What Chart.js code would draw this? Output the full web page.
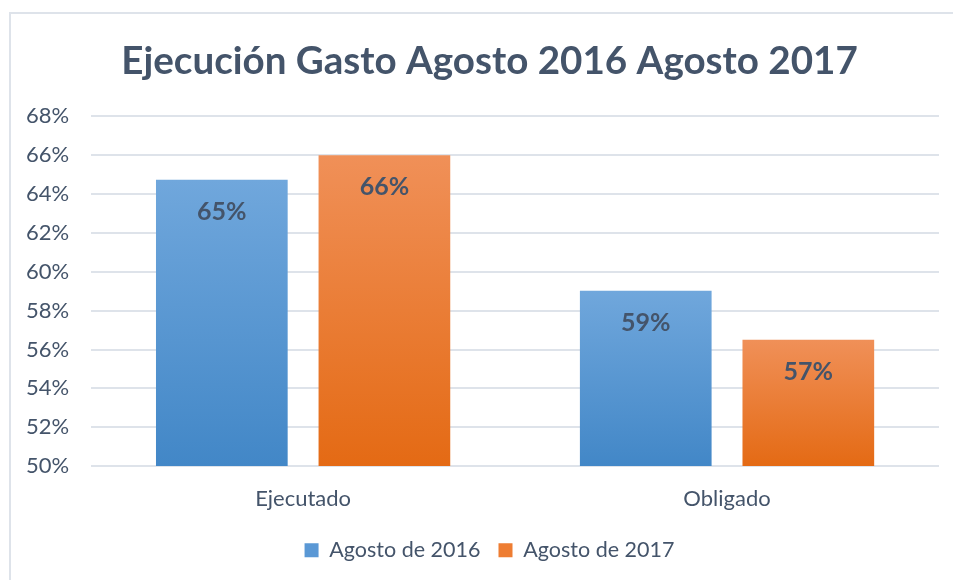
<!DOCTYPE html>
<html>
<head>
<meta charset="utf-8">
<script src="https://cdn.jsdelivr.net/npm/chart.js@4"></script>
<style>
  html, body { margin: 0; padding: 0; background: #fff; }
  #wrap { position: relative; width: 953px; height: 580px; }
  #frame {
    position: absolute; left: 9px; top: 12px; right: 0; bottom: 0;
    border-left: 2px solid #DEE3EA; border-top: 2px solid #DEE3EA;
  }
  canvas { position: absolute; left: 0; top: 0; }
</style>
</head>
<body>
<div id="wrap">
  <div id="frame"></div>
  <canvas id="gastoChart" width="953" height="580"></canvas>
</div>
<script>
const categories = ['Ejecutado', 'Obligado'];
const seriesNames = ['Agosto de 2016', 'Agosto de 2017'];
const agosto2016 = [64.73, 59.02];
const agosto2017 = [66.0, 56.5];
const yTicks = [50, 52, 54, 56, 58, 60, 62, 64, 66, 68];

const textColor = '#44546A';
const fontFamily = 'Lato, "Open Sans", sans-serif';

// vertical gradient per bar, light at the top, darker at the base
function barGradient(top, bottom) {
    return function(ctx) {
        const chart = ctx.chart;
        if (!chart.chartArea || ctx.raw === undefined) return bottom;
        const yScale = chart.scales.y;
        const y0 = yScale.getPixelForValue(ctx.raw);
        const y1 = yScale.getPixelForValue(yScale.min);
        const g = chart.ctx.createLinearGradient(0, y0, 0, y1);
        g.addColorStop(0, top);
        g.addColorStop(1, bottom);
        return g;
    };
}

// value labels drawn inside the bars, near the top
const barLabels = {
    id: 'barLabels',
    afterDatasetsDraw(chart) {
        const c = chart.ctx;
        c.save();
        c.font = 'bold 25px ' + fontFamily;
        c.fillStyle = textColor;
        c.textAlign = 'center';
        c.textBaseline = 'middle';
        chart.data.datasets.forEach((ds, i) => {
            chart.getDatasetMeta(i).data.forEach((bar, j) => {
                c.fillText(Math.round(ds.data[j]) + '%', bar.x, bar.y + 32);
            });
        });
        c.restore();
    }
};

// nudge title and legend a little to the right (and the legend up)
const shiftBlocks = {
    id: 'shiftBlocks',
    afterLayout(chart) {
        const t = chart.titleBlock;
        if (t) { t.left += 18; t.right += 18; }
        const l = chart.legend;
        if (l) { l.left += 18; l.right += 18; l.top -= 3; l.bottom -= 3; }
    }
};

const ctx = document.getElementById('gastoChart').getContext('2d');
new Chart(ctx, {
    type: 'bar',
    data: {
        labels: categories,
        datasets: [{
            label: seriesNames[0],
            data: agosto2016,
            backgroundColor: barGradient('#70A7DC', '#4287C7')
        }, {
            label: seriesNames[1],
            data: agosto2017,
            backgroundColor: barGradient('#F09058', '#E46A14')
        }]
    },
    options: {
        responsive: false,
        animation: false,
        categoryPercentage: 0.767,
        barPercentage: 0.81,
        layout: { padding: { left: 4, right: 14, top: 32, bottom: 6 } },
        plugins: {
            title: {
                display: true,
                text: 'Ejecución Gasto Agosto 2016 Agosto 2017',
                color: textColor,
                font: { family: fontFamily, size: 38.6, weight: 'bold' },
                padding: { top: 6, bottom: 32 }
            },
            legend: {
                position: 'bottom',
                labels: {
                    color: textColor,
                    font: { family: fontFamily, size: 21.5 },
                    boxWidth: 14,
                    boxHeight: 14,
                    padding: 18,
                    generateLabels(chart) {
                        return chart.data.datasets.map((ds, i) => ({
                            text: ds.label,
                            fillStyle: i === 0 ? '#5A98D5' : '#EE7D32',
                            strokeStyle: 'transparent',
                            lineWidth: 0,
                            fontColor: textColor,
                            datasetIndex: i
                        }));
                    }
                }
            },
            tooltip: { enabled: false }
        },
        scales: {
            x: {
                grid: { display: false },
                border: { display: false },
                ticks: {
                    color: textColor,
                    font: { family: fontFamily, size: 22 },
                    padding: 12
                }
            },
            y: {
                min: 50,
                max: 68,
                afterBuildTicks(axis) {
                    axis.ticks = yTicks.map(v => ({ value: v }));
                },
                grid: { color: '#DEE3EA', lineWidth: 2, drawTicks: false },
                border: { display: false },
                ticks: {
                    color: textColor,
                    font: { family: fontFamily, size: 22 },
                    padding: 22,
                    callback: v => v + '%'
                }
            }
        }
    },
    plugins: [barLabels, shiftBlocks]
});
</script>
</body>
</html>
